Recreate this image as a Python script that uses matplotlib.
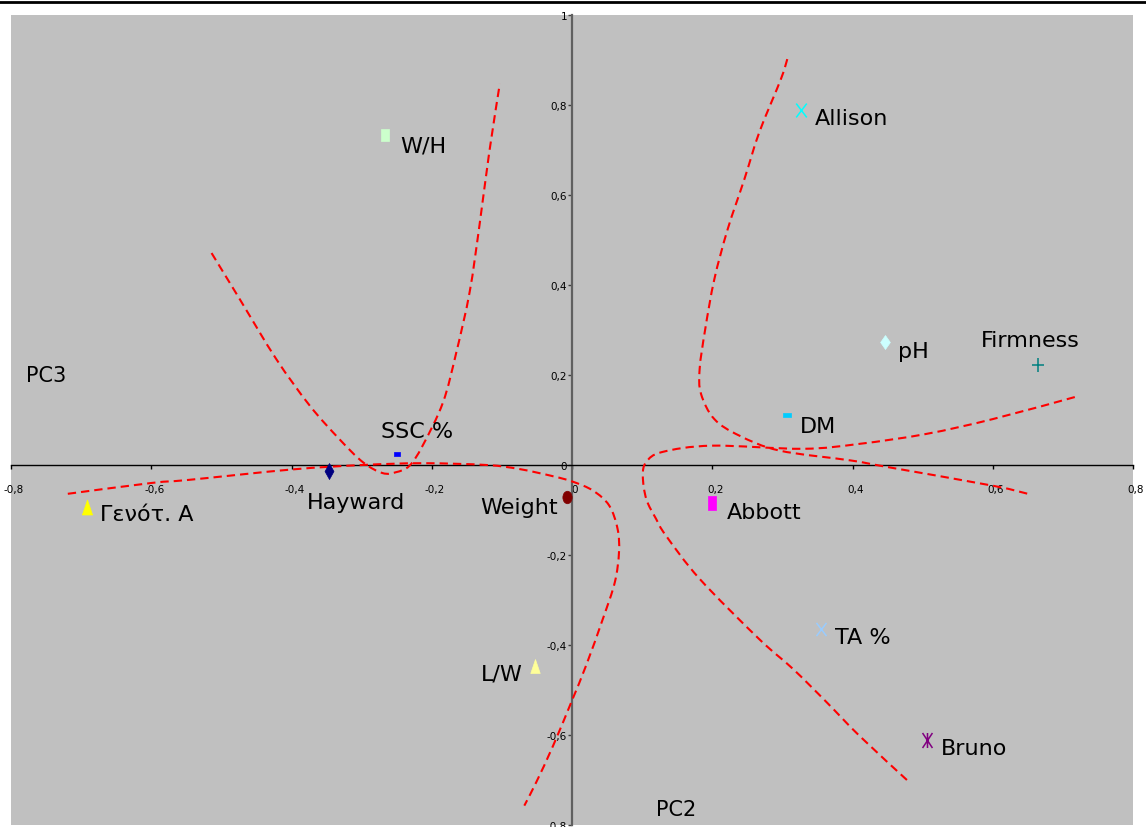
import matplotlib
matplotlib.use("Agg")
import matplotlib.pyplot as plt
from matplotlib.path import Path
from matplotlib.patches import PathPatch
from matplotlib.lines import Line2D
from matplotlib.transforms import Affine2D, ScaledTranslation
from matplotlib.ticker import FixedLocator, FuncFormatter

plt.rcParams["font.family"] = ["DejaVu Sans"]

# ---- scores / loadings on PC2 (x) and PC3 (y) ----
names = ["W/H", "SSC %", "Hayward", "Γενότ. Α", "Weight", "L/W", "Abbott",
         "Allison", "pH", "Firmness", "DM", "TA %", "Bruno"]
pc2 = [-0.266, -0.249, -0.346, -0.692, -0.007, -0.053, 0.200,
       0.327, 0.447, 0.664, 0.306, 0.355, 0.506]
pc3 = [0.733, 0.024, -0.013, -0.094, -0.070, -0.446, -0.084,
       0.789, 0.274, 0.222, 0.111, -0.364, -0.610]

x_ticks = [-0.8, -0.6, -0.4, -0.2, 0.0, 0.2, 0.4, 0.6, 0.8]
y_ticks = [-0.8, -0.6, -0.4, -0.2, 0.0, 0.2, 0.4, 0.6, 0.8, 1.0]

# ---- hand-drawn group boundaries (dashed red curves) ----
curve_a_x = [-0.514, -0.474, -0.422, -0.374, -0.332, -0.298, -0.270, -0.251,
             -0.232, -0.213, -0.184, -0.165, -0.146, -0.132, -0.118, -0.103]
curve_a_y = [0.471, 0.369, 0.236, 0.132, 0.058, 0.006, -0.018, -0.016,
             -0.002, 0.043, 0.139, 0.250, 0.384, 0.532, 0.695, 0.847]

curve_b_x = [-0.719, -0.600, -0.546, -0.400, -0.299, -0.213, -0.122, -0.075,
             -0.027, 0.001, 0.030, 0.053, 0.065, 0.067, 0.061, 0.044, 0.020,
             -0.001, -0.027, -0.051, -0.068]
curve_b_y = [-0.064, -0.040, -0.033, -0.010, 0.000, 0.004, 0.000, -0.009,
             -0.025, -0.037, -0.057, -0.090, -0.142, -0.194, -0.261, -0.342,
             -0.446, -0.527, -0.624, -0.705, -0.757]

curve_c_x = [0.307, 0.298, 0.267, 0.246, 0.222, 0.203, 0.190, 0.182, 0.184,
             0.203, 0.239, 0.296, 0.398, 0.448, 0.600, 0.650]
curve_c_y = [0.902, 0.858, 0.739, 0.636, 0.524, 0.413, 0.302, 0.213, 0.158,
             0.102, 0.065, 0.032, 0.010, -0.004, -0.046, -0.064]

curve_d_x = [0.717, 0.600, 0.505, 0.410, 0.329, 0.200, 0.129, 0.106, 0.101,
             0.106, 0.120, 0.134, 0.182, 0.267, 0.315, 0.363, 0.410, 0.479]
curve_d_y = [0.151, 0.102, 0.069, 0.047, 0.036, 0.043, 0.029, 0.007, -0.024,
             -0.076, -0.120, -0.157, -0.253, -0.387, -0.453, -0.527, -0.602, -0.702]

curves = [(curve_a_x, curve_a_y), (curve_b_x, curve_b_y),
          (curve_c_x, curve_c_y), (curve_d_x, curve_d_y)]


def smooth_path(xs, ys):
    """Cubic Bezier path through the given points (Catmull-Rom tangents)."""
    pts = list(zip(xs, ys))
    n = len(pts)
    verts = [pts[0]]
    codes = [Path.MOVETO]
    for i in range(n - 1):
        p0 = pts[i - 1] if i > 0 else pts[i]
        p1 = pts[i]
        p2 = pts[i + 1]
        p3 = pts[i + 2] if i + 2 < n else pts[i + 1]
        c1 = (p1[0] + (p2[0] - p0[0]) / 6, p1[1] + (p2[1] - p0[1]) / 6)
        c2 = (p2[0] - (p3[0] - p1[0]) / 6, p2[1] - (p3[1] - p1[1]) / 6)
        verts += [c1, c2, p2]
        codes += [Path.CURVE4] * 3
    return Path(verts, codes)


# ---- marker shapes ----
M, L = Path.MOVETO, Path.LINETO
rect_tall = Path([(-0.33, -0.5), (0.33, -0.5), (0.33, 0.5), (-0.33, 0.5), (-0.33, -0.5)])
dash = Path([(-0.5, -0.22), (0.5, -0.22), (0.5, 0.22), (-0.5, 0.22), (-0.5, -0.22)])
ellipse = Path.unit_circle().transformed(Affine2D().scale(0.37, 0.5))
diamond_thin = Path([(0, -0.5), (0.28, 0), (0, 0.5), (-0.28, 0), (0, -0.5)])
diamond_wide = Path([(0, -0.5), (0.35, 0), (0, 0.5), (-0.35, 0), (0, -0.5)])
triangle = Path([(-0.34, -0.5), (0.34, -0.5), (0, 0.5), (-0.34, -0.5)])
cross_x = Path([(-0.38, -0.5), (0.38, 0.5), (-0.38, 0.5), (0.38, -0.5)], [M, L, M, L])
star = Path([(-0.33, -0.5), (0.33, 0.5), (-0.33, 0.5), (0.33, -0.5), (0, -0.5), (0, 0.5)],
            [M, L, M, L, M, L])
plus = Path([(-0.4, 0), (0.4, 0), (0, -0.5), (0, 0.5)], [M, L, M, L])

# marker, size (pt), colour, filled
styles = {
    "W/H": (rect_tall, 8.6, "#CCFFCC", True),
    "SSC %": (dash, 5.0, "#0000FF", True),
    "Hayward": (diamond_thin, 11.5, "#000080", True),
    "Γενότ. Α": (triangle, 10.8, "#FFFF00", True),
    "Weight": (ellipse, 9.0, "#800000", True),
    "L/W": (triangle, 10.0, "#FFFF99", True),
    "Abbott": (rect_tall, 9.4, "#FF00FF", True),
    "Allison": (cross_x, 10.0, "#00FFFF", False),
    "pH": (diamond_wide, 10.0, "#CCFFFF", True),
    "Firmness": (plus, 10.0, "#008080", False),
    "DM": (dash, 5.5, "#00CCFF", True),
    "TA %": (cross_x, 9.5, "#99CCFF", False),
    "Bruno": (star, 10.8, "#800080", False),
}

# label placement: offset in pixels (dx, dy) and horizontal alignment
label_pos = {
    "W/H": (15, -16, "left"),
    "SSC %": (20, 17, "center"),
    "Hayward": (27, -37, "center"),
    "Γενότ. Α": (13, -13, "left"),
    "Weight": (-9, -17, "right"),
    "L/W": (-12, -14, "right"),
    "Abbott": (15, -15, "left"),
    "Allison": (14, -14, "left"),
    "pH": (13, -15, "left"),
    "Firmness": (-7, 19, "center"),
    "DM": (13, -17, "left"),
    "TA %": (14, -14, "left"),
    "Bruno": (14, -15, "left"),
}

fig = plt.figure(figsize=(11.46, 8.28), dpi=100)
fig.patch.set_facecolor("white")
ax = fig.add_axes([11 / 1146, 2 / 828, 1122 / 1146, 810 / 828])
ax.set_facecolor("#C0C0C0")
ax.set_xlim(-0.8, 0.8)
ax.set_ylim(-0.8, 1.0)

for cx, cy in curves:
    ax.add_patch(PathPatch(smooth_path(cx, cy), fill=False, edgecolor="#FF0000",
                           lw=1.5, linestyle=(0, (4, 2.4)), capstyle="butt", zorder=3))

for name, x, y in zip(names, pc2, pc3):
    mk, ms, col, filled = styles[name]
    if filled:
        ax.plot([x], [y], linestyle="none", marker=mk, markersize=ms,
                markerfacecolor=col, markeredgecolor=col, markeredgewidth=0.5, zorder=4)
    else:
        ax.plot([x], [y], linestyle="none", marker=mk, markersize=ms,
                markerfacecolor="none", markeredgecolor=col, markeredgewidth=1.1, zorder=4)
    dx, dy, ha = label_pos[name]
    ax.annotate(name, (x, y), xytext=(dx, dy), textcoords="offset pixels",
                ha=ha, va="baseline", fontsize=16, color="black", zorder=5)

ax.text(-0.750, 0.200, "PC3", fontsize=15, ha="center", va="center")
ax.text(0.149, -0.764, "PC2", fontsize=15, ha="center", va="center")

# axes crossing at the origin
for side in ("top", "right"):
    ax.spines[side].set_visible(False)
ax.spines["left"].set_position(("data", 0))
ax.spines["bottom"].set_position(("data", 0))
ax.spines["left"].set_color("#606060")
ax.spines["left"].set_linewidth(1.6)
ax.spines["bottom"].set_color("black")
ax.spines["bottom"].set_linewidth(1.0)
ax.spines["left"].set_zorder(2)
ax.spines["bottom"].set_zorder(2)

fmt = FuncFormatter(lambda v, p: ("%g" % round(v, 2)).replace(".", ",")
                    if abs(v) > 1e-9 else "0")
ax.xaxis.set_major_locator(FixedLocator(x_ticks))
ax.yaxis.set_major_locator(FixedLocator(y_ticks))
ax.xaxis.set_major_formatter(fmt)
ax.yaxis.set_major_formatter(fmt)
ax.tick_params(axis="x", direction="out", length=3, width=1, pad=11,
               labelsize=7.5, color="black")
ax.tick_params(axis="y", direction="out", length=3, width=1, pad=0.5,
               labelsize=7.5, color="#404040")

shift = ScaledTranslation(3 / 100, 0, fig.dpi_scale_trans)
for t in ax.xaxis.get_major_ticks():
    t.label1.set_transform(t.label1.get_transform() + shift)

# rule along the top of the page
fig.add_artist(Line2D([0, 1], [1 - 3 / 828, 1 - 3 / 828], transform=fig.transFigure,
                      color="black", lw=2.0))

fig.savefig("out.png", dpi=100, facecolor="white")
